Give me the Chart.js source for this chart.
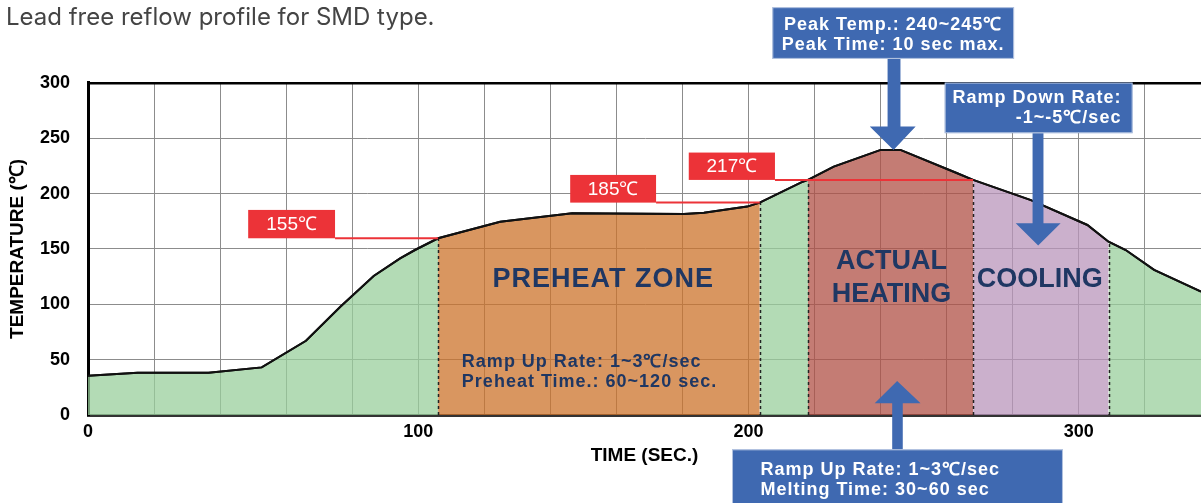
<!DOCTYPE html>
<html>
<head>
<meta charset="utf-8">
<script src="https://cdn.jsdelivr.net/npm/chart.js@4.4.1/dist/chart.umd.min.js"></script>
<style>
  html, body { margin: 0; padding: 0; background: #fff; overflow: hidden; }
</style>
</head>
<body>
<canvas id="reflowChart" width="1201" height="503"></canvas>
<script>
// Reflow curve: time (sec) and temperature (℃)
const timeSec = [0, 15, 36.5, 52.6, 66, 76.4, 86.5, 94.5, 99, 106, 124.8, 146.6, 180.4, 186.5, 199.6, 203.4,
                 215.8, 218, 225.8, 240, 246, 263.2, 268, 285.5, 302.6, 309, 314.2, 322.8, 337];
const tempC   = [35.5, 38.2, 38.2, 43, 67, 97.8, 125.6, 141.5, 149, 159.6, 174.6, 182.2, 181.6, 182.7, 188.2, 191.8,
                 209.8, 212.3, 224.3, 239.4, 239.4, 218.3, 212.3, 194, 171.6, 156.5, 149, 131, 111.4];

// zone edges along the time axis (sec)
const zoneEdges = [0, 106, 203.4, 218, 268, 309, 337];
const xTickLabels = [0, 100, 200, 300];
const thresholdLabels = ['155℃', '185℃', '217℃'];

const zoneFills = [
    'rgba(154, 207, 156, 0.75)',
    'rgba(204, 115, 43, 0.75)',
    'rgba(154, 207, 156, 0.75)',
    'rgba(176, 80, 70, 0.75)',
    'rgba(186, 150, 187, 0.75)',
    'rgba(154, 207, 156, 0.75)'
];

const NAVY = '#1f3763';
const BLUE = '#3f69b1';
const RED = '#ec3338';
const BOLD = "bold 18px 'Liberation Sans', Arial, sans-serif";

const curve = timeSec.map((t, i) => ({ x: t, y: tempC[i] }));

// one filled dataset per zone, made of the curve points inside it
const zoneSets = zoneFills.map((color, i) => ({
    data: curve.filter(p => p.x >= zoneEdges[i] && p.x <= zoneEdges[i + 1]),
    backgroundColor: color,
    borderWidth: 0,
    pointRadius: 0,
    fill: 'origin',
    tension: 0
}));

const curveAt = t => tempC[timeSec.indexOf(t)];

// annotation layout, in data units
const redTags = [
    { t0: 48.5, t1: 74.8, T0: 159.6, T1: 185.2, lineTo: 106 },
    { t0: 146, t1: 172, T0: 191.8, T1: 216.8, lineTo: 203.4 },
    { t0: 181.9, t1: 208, T0: 212.3, T1: 237, lineTo: 268 }
];

const callouts = [
    {
        box: [207.2, 280.4, 321.6, 368.3],
        lines: ['Peak Temp.: 240~245℃', 'Peak Time: 10 sec max.'],
        align: 'center', tx: 243.8, ty: [352.4, 334.3],
        arrow: { s0: 242.1, s1: 246, from: 321.6, base: 260.5, h0: 236.7, h1: 250.6, tipX: 243.9, tipY: 239.4 }
    },
    {
        box: [259.4, 316.3, 254.5, 300.2],
        lines: ['Ramp Down Rate:', '-1~-5℃/sec'],
        align: 'right', tx: 312.9, ty: [286.4, 268.3],
        arrow: { s0: 286, s1: 289.3, from: 254.5, base: 173.2, h0: 280.9, h1: 294.5, tipX: 287.7, tipY: 153 }
    },
    {
        box: [195, 295.2, -100, -31],
        lines: ['Ramp Up Rate: 1~3℃/sec', 'Melting Time: 30~60 sec'],
        align: 'left', tx: 203.6, ty: [-49.7, -67.8],
        arrow: { s0: 243.5, s1: 246.7, from: -31, base: 10.6, h0: 238.2, h1: 252.1, tipX: 245, tipY: 30.7 }
    }
];

const zoneTexts = [
    { text: 'PREHEAT ZONE', t: 156, T: 122 },
    { text: 'ACTUAL', t: 243.3, T: 138.5 },
    { text: 'HEATING', t: 243.3, T: 109.2 },
    { text: 'COOLING', t: 288.2, T: 122 }
];

const reflowNotes = {
    id: 'reflowNotes',
    afterDatasetsDraw(chart) {
        const ctx = chart.ctx;
        const xs = chart.scales.x, ys = chart.scales.y;
        const px = v => xs.getPixelForValue(v);
        const py = v => ys.getPixelForValue(v);
        ctx.save();

        // dotted zone borders
        ctx.strokeStyle = '#222';
        ctx.lineWidth = 1.5;
        ctx.setLineDash([3, 3]);
        zoneEdges.slice(1, -1).forEach(t => {
            ctx.beginPath();
            ctx.moveTo(Math.round(px(t)) + 0.5, py(0));
            ctx.lineTo(Math.round(px(t)) + 0.5, py(curveAt(t)));
            ctx.stroke();
        });
        ctx.setLineDash([]);

        // curve again on top of the dotted lines
        ctx.strokeStyle = '#111';
        ctx.lineWidth = 2;
        ctx.beginPath();
        curve.forEach((p, i) => i ? ctx.lineTo(px(p.x), py(p.y)) : ctx.moveTo(px(p.x), py(p.y)));
        ctx.stroke();

        // red threshold tags
        redTags.forEach((tag, i) => {
            ctx.strokeStyle = RED;
            ctx.lineWidth = 2;
            ctx.beginPath();
            ctx.moveTo(px(tag.t1), py(tag.T0));
            ctx.lineTo(px(tag.lineTo), py(tag.T0));
            ctx.stroke();
            ctx.fillStyle = RED;
            ctx.fillRect(px(tag.t0), py(tag.T1), px(tag.t1) - px(tag.t0), py(tag.T0) - py(tag.T1));
            ctx.fillStyle = '#fff';
            ctx.font = "19px 'Liberation Sans', Arial, sans-serif";
            ctx.textAlign = 'center';
            ctx.textBaseline = 'middle';
            ctx.fillText(thresholdLabels[i], (px(tag.t0) + px(tag.t1)) / 2, (py(tag.T0) + py(tag.T1)) / 2 + 1);
        });

        // zone names
        ctx.fillStyle = NAVY;
        ctx.font = "bold 27px 'Liberation Sans', Arial, sans-serif";
        ctx.textAlign = 'center';
        ctx.textBaseline = 'middle';
        zoneTexts.forEach(z => {
            ctx.letterSpacing = z.text === 'PREHEAT ZONE' ? '1px' : '0px';
            ctx.fillText(z.text, px(z.t), py(z.T));
        });

        // preheat notes
        ctx.font = BOLD;
        ctx.letterSpacing = '1px';
        ctx.textAlign = 'left';
        ctx.fillText('Ramp Up Rate: 1~3℃/sec', px(113.2), py(48.1));
        ctx.fillText('Preheat Time.: 60~120 sec.', px(113.2), py(30));

        // blue callouts with arrows
        callouts.forEach(c => {
            const [t0, t1, T0, T1] = c.box;
            const a = c.arrow;
            ctx.fillStyle = BLUE;
            ctx.beginPath();
            ctx.moveTo(px(a.s0), py(a.from));
            ctx.lineTo(px(a.s0), py(a.base));
            ctx.lineTo(px(a.h0), py(a.base));
            ctx.lineTo(px(a.tipX), py(a.tipY));
            ctx.lineTo(px(a.h1), py(a.base));
            ctx.lineTo(px(a.s1), py(a.base));
            ctx.lineTo(px(a.s1), py(a.from));
            ctx.closePath();
            ctx.fill();
            ctx.fillRect(px(t0), py(T1), px(t1) - px(t0), py(T0) - py(T1));
            ctx.strokeStyle = 'rgba(255,255,255,0.6)';
            ctx.lineWidth = 1;
            ctx.strokeRect(px(t0) + 0.5, py(T1) + 0.5, px(t1) - px(t0) - 1, py(T0) - py(T1) - 1);
            ctx.fillStyle = '#fff';
            ctx.font = BOLD;
            ctx.textAlign = c.align;
            c.lines.forEach((line, i) => ctx.fillText(line, px(c.tx), py(c.ty[i])));
        });

        ctx.restore();
    }
};

Chart.defaults.font.family = "'Liberation Sans', Arial, sans-serif";
Chart.defaults.color = '#000';

new Chart(document.getElementById('reflowChart'), {
    type: 'line',
    data: {
        datasets: [
            { data: curve, borderColor: '#111', borderWidth: 2, pointRadius: 0, fill: false, tension: 0 },
            ...zoneSets
        ]
    },
    options: {
        responsive: false,
        animation: false,
        devicePixelRatio: 1,
        layout: { padding: { left: 6, right: 0, top: 0, bottom: 0 } },
        plugins: {
            legend: { display: false },
            tooltip: { enabled: false },
            title: {
                display: true,
                text: 'Lead free reflow profile for SMD type.',
                align: 'start',
                color: '#444',
                font: { family: 'Inter', size: 24, weight: 400 },
                padding: { top: 3, bottom: 51 }
            }
        },
        scales: {
            x: {
                type: 'linear',
                min: 0,
                max: 337,
                afterFit: s => { s.height = 88; },
                grid: { color: '#8c8c8c', lineWidth: 1, drawTicks: false },
                border: { color: '#333', width: 3 },
                ticks: {
                    stepSize: 20,
                    includeBounds: false,
                    autoSkip: false,
                    maxRotation: 0,
                    padding: 6,
                    font: { size: 18, weight: 'bold' },
                    callback: v => xTickLabels.includes(v) ? String(v) : ''
                },
                title: {
                    display: true,
                    text: 'TIME (SEC.)',
                    font: { size: 19, weight: 'bold' },
                    padding: { top: 0, bottom: 36 }
                }
            },
            y: {
                min: 0,
                max: 300,
                afterFit: s => { s.width = 82; },
                grid: {
                    color: c => c.tick && c.tick.value === 300 ? '#000' : '#8c8c8c',
                    lineWidth: c => c.tick && c.tick.value === 300 ? 2.5 : 1,
                    drawTicks: false
                },
                border: { color: '#000', width: 3 },
                ticks: { stepSize: 50, padding: 18, font: { size: 18, weight: 'bold' } },
                title: {
                    display: true,
                    text: 'TEMPERATURE (℃)',
                    font: { size: 19, weight: 'bold' },
                    padding: { top: 0, bottom: 0 }
                }
            }
        }
    },
    plugins: [reflowNotes]
});
</script>
</body>
</html>
